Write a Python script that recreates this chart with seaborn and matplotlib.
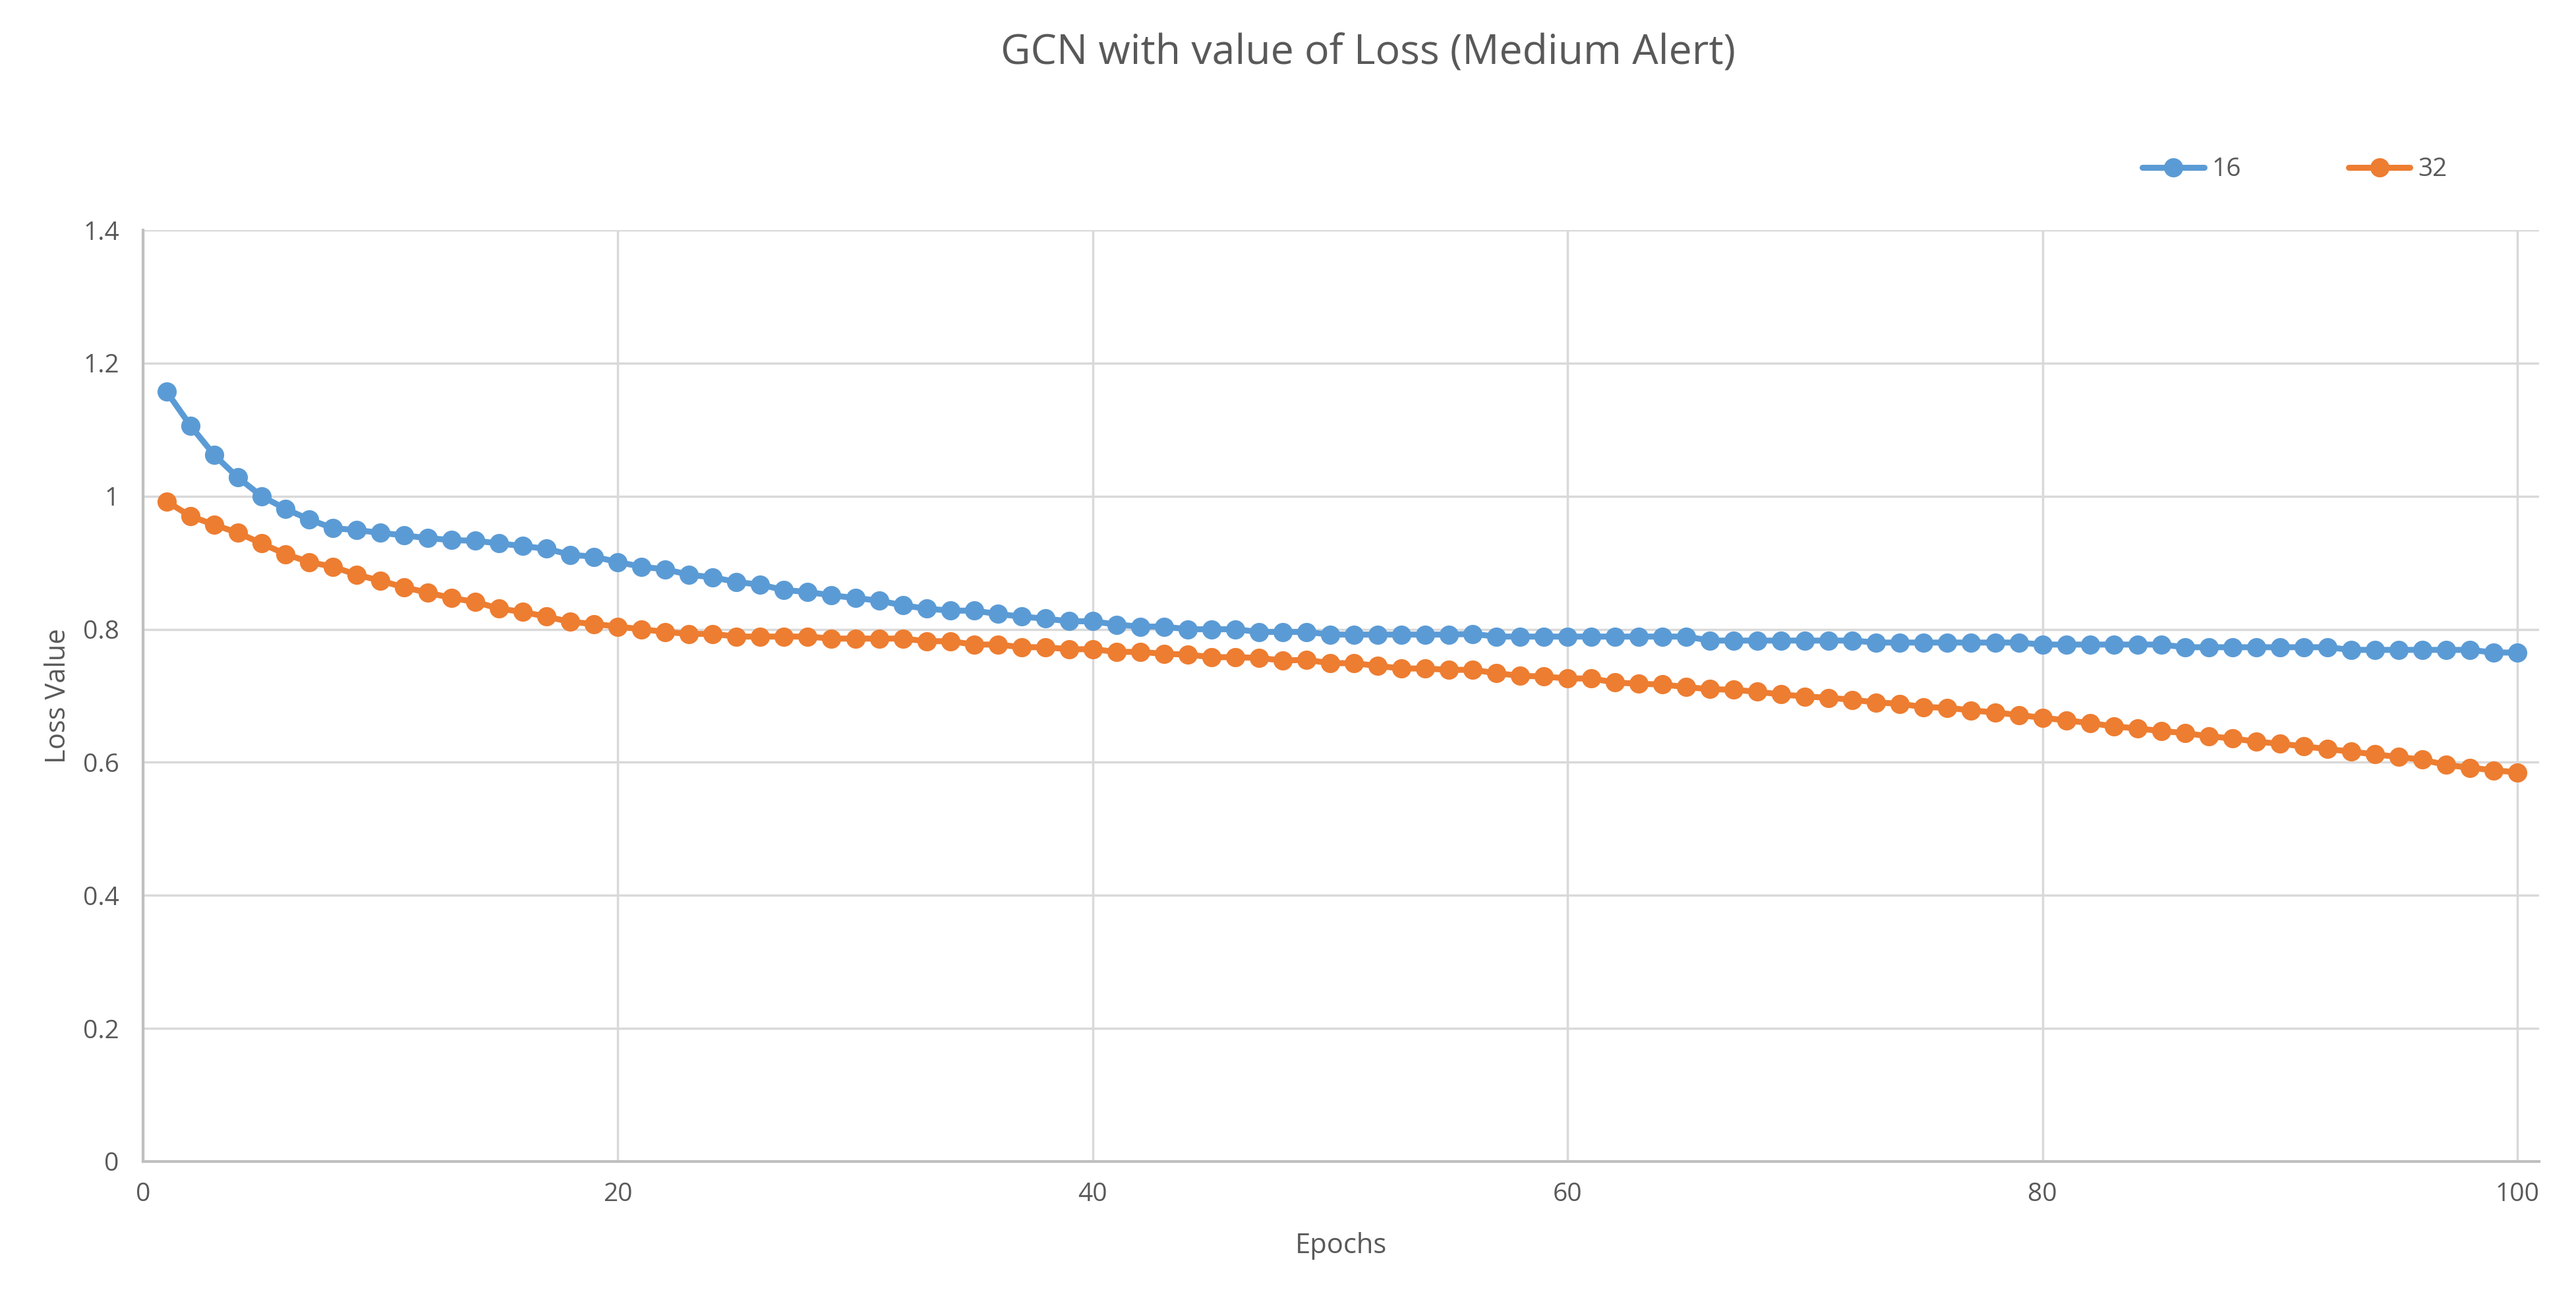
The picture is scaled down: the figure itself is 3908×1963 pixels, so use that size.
import numpy as np
import pandas as pd
import matplotlib
matplotlib.use("Agg")
import matplotlib.pyplot as plt
import seaborn as sns

# epochs on the x axis
epochs = list(range(1, 101))

# loss values
loss_16 = [1.157, 1.106, 1.062, 1.028, 1.000, 0.981, 0.965, 0.952, 0.949, 0.945,
           0.941, 0.937, 0.934, 0.933, 0.929, 0.925, 0.921, 0.912, 0.909, 0.901,
           0.894, 0.890, 0.882, 0.878, 0.871, 0.867, 0.859, 0.856, 0.851, 0.847,
           0.843, 0.836, 0.831, 0.828, 0.828, 0.823, 0.819, 0.816, 0.812, 0.812,
           0.807, 0.804, 0.804, 0.800, 0.800, 0.800, 0.796, 0.796, 0.796, 0.792,
           0.792, 0.792, 0.792, 0.792, 0.792, 0.793, 0.789, 0.789, 0.789, 0.789,
           0.789, 0.789, 0.789, 0.789, 0.789, 0.783, 0.783, 0.783, 0.783, 0.783,
           0.783, 0.783, 0.780, 0.780, 0.780, 0.780, 0.780, 0.780, 0.780, 0.777,
           0.777, 0.777, 0.777, 0.777, 0.777, 0.773, 0.773, 0.773, 0.773, 0.773,
           0.773, 0.773, 0.769, 0.769, 0.769, 0.769, 0.769, 0.769, 0.765, 0.765]

loss_32 = [0.992, 0.970, 0.957, 0.945, 0.929, 0.913, 0.901, 0.894, 0.882, 0.873,
           0.863, 0.855, 0.847, 0.841, 0.831, 0.826, 0.819, 0.811, 0.808, 0.804,
           0.800, 0.796, 0.793, 0.793, 0.789, 0.789, 0.789, 0.789, 0.786, 0.786,
           0.786, 0.786, 0.782, 0.782, 0.777, 0.777, 0.773, 0.773, 0.770, 0.770,
           0.766, 0.766, 0.763, 0.762, 0.758, 0.758, 0.757, 0.753, 0.754, 0.749,
           0.749, 0.745, 0.741, 0.741, 0.739, 0.739, 0.734, 0.730, 0.729, 0.726,
           0.726, 0.720, 0.718, 0.717, 0.713, 0.710, 0.709, 0.706, 0.702, 0.699,
           0.697, 0.694, 0.690, 0.688, 0.683, 0.682, 0.678, 0.675, 0.671, 0.667,
           0.663, 0.659, 0.654, 0.651, 0.647, 0.644, 0.639, 0.636, 0.631, 0.628,
           0.624, 0.620, 0.616, 0.612, 0.608, 0.604, 0.596, 0.592, 0.588, 0.585]

series_names = ["16", "32"]
colors = ["#5B9BD5", "#ED7D31"]

df = pd.concat([
    pd.DataFrame({"Epochs": epochs, "Loss Value": loss_16, "series": series_names[0]}),
    pd.DataFrame({"Epochs": epochs, "Loss Value": loss_32, "series": series_names[1]}),
])

sns.set_theme(style="white")
plt.rcParams["font.family"] = ["Open Sans", "DejaVu Sans"]
text_color = "#595959"

fig = plt.figure(figsize=(39.08, 19.63), dpi=100)
ax = fig.add_axes([0.0555, 0.1024, 0.9302, 0.7198])

sns.lineplot(data=df, x="Epochs", y="Loss Value", hue="series",
             palette=dict(zip(series_names, colors)), marker="o",
             markersize=21, markeredgewidth=0, linewidth=6.5, ax=ax)

ax.set_xlim(0, 100.92)
ax.set_ylim(0, 1.4)
ax.set_xticks(np.arange(0, 101, 20))
ax.set_yticks(np.arange(0, 1.41, 0.2))
ax.set_yticklabels(["0", "0.2", "0.4", "0.6", "0.8", "1", "1.2", "1.4"])
ax.grid(True, color="#d9d9d9", linewidth=2.5)
ax.set_axisbelow(True)
for s in ["top", "right"]:
    ax.spines[s].set_visible(False)
for s in ["left", "bottom"]:
    ax.spines[s].set_color("#bfbfbf")
    ax.spines[s].set_linewidth(3)
ax.tick_params(axis="both", length=0, labelsize=28, colors=text_color)
ax.tick_params(axis="y", pad=26)
ax.tick_params(axis="x", pad=22)

ax.set_xlabel("Epochs", fontsize=30, color=text_color, labelpad=28)
ax.set_ylabel("Loss Value", fontsize=30, color=text_color, labelpad=12)
fig.suptitle("GCN with value of Loss (Medium Alert)", fontsize=45,
             color=text_color, x=0.531, y=0.959, va="center")

leg = ax.legend(loc="center", bbox_to_anchor=(0.898, 1.065), ncol=2, frameon=False,
                fontsize=28, handlelength=2.4, columnspacing=4.2, handletextpad=0.3,
                labelcolor=text_color)

fig.savefig("out.png", dpi=100, facecolor="white")
